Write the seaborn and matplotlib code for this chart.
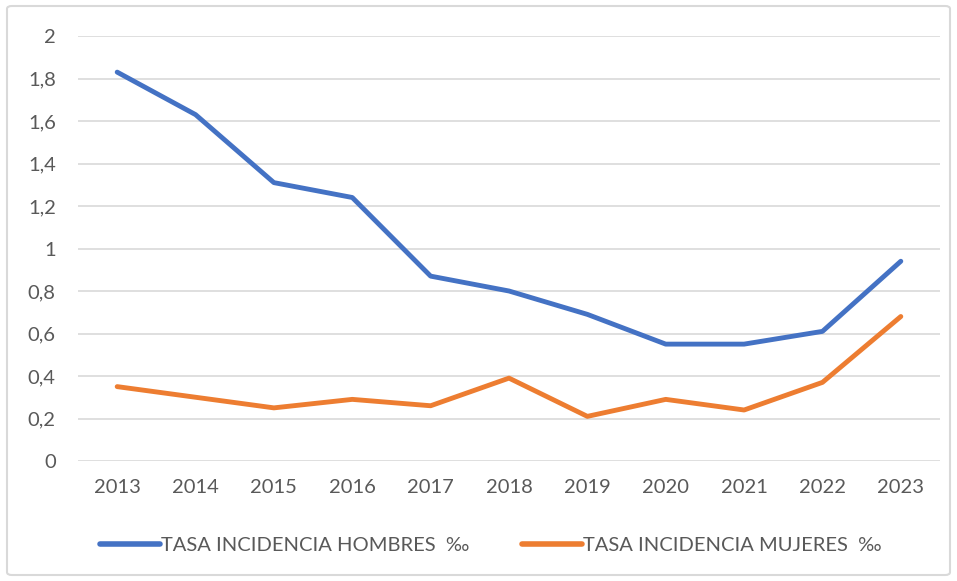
import seaborn as sns
import matplotlib.pyplot as plt
import pandas as pd
from matplotlib.patches import FancyBboxPatch

years = ['2013', '2014', '2015', '2016', '2017', '2018', '2019', '2020', '2021', '2022', '2023']
hombres = [1.83, 1.63, 1.31, 1.24, 0.87, 0.80, 0.69, 0.55, 0.55, 0.61, 0.94]
mujeres = [0.35, 0.30, 0.25, 0.29, 0.26, 0.39, 0.21, 0.29, 0.24, 0.37, 0.68]
labels = ['TASA INCIDENCIA HOMBRES  ‰', 'TASA INCIDENCIA MUJERES  ‰']
colors = ['#4472C4', '#ED7D31']

data = pd.DataFrame({'year': years * 2,
                     'value': hombres + mujeres,
                     'serie': [labels[0]] * len(years) + [labels[1]] * len(years)})

sns.set_style('white')
plt.rcParams['font.family'] = ['Lato', 'DejaVu Sans']

fig = plt.figure(figsize=(9.57, 5.81), dpi=100)
ax = fig.add_axes([78 / 957, 1 - 461 / 581, (940 - 78) / 957, (461 - 36) / 581])

sns.lineplot(data=data, x='year', y='value', hue='serie', palette=colors,
             linewidth=3.5, sort=False, ax=ax, legend=False)

ax.set_xlim(-0.5, len(years) - 0.5)
ax.set_ylim(0, 2)
ax.set_yticks([i * 0.2 for i in range(11)])
ax.set_yticklabels(['0', '0,2', '0,4', '0,6', '0,8', '1', '1,2', '1,4', '1,6', '1,8', '2'])
ax.yaxis.grid(True, color='#D9D9D9', linewidth=1.2)
for s in ax.spines.values():
    s.set_visible(False)
ax.tick_params(axis='both', length=0, labelsize=14.5, colors='#595959', pad=13)
ax.tick_params(axis='y', pad=16)
ax.set_xlabel('')
ax.set_ylabel('')

handles = [plt.Line2D([], [], color=c, linewidth=4, solid_capstyle='round') for c in colors]
fig.legend(handles, labels, loc='center', bbox_to_anchor=(0.513, 1 - 545 / 581), ncol=2,
           frameon=False, fontsize=14.5, handlelength=3.0, handletextpad=0.05,
           columnspacing=2.6, labelcolor='#595959')

border = FancyBboxPatch((7 / 957, 6 / 581), 1 - 14 / 957, 1 - 12 / 581,
                        boxstyle='round,pad=0,rounding_size=0.005', transform=fig.transFigure,
                        fill=False, edgecolor='#D9D9D9', linewidth=1.5)
fig.patches.append(border)

plt.savefig('out.png', dpi=100)
